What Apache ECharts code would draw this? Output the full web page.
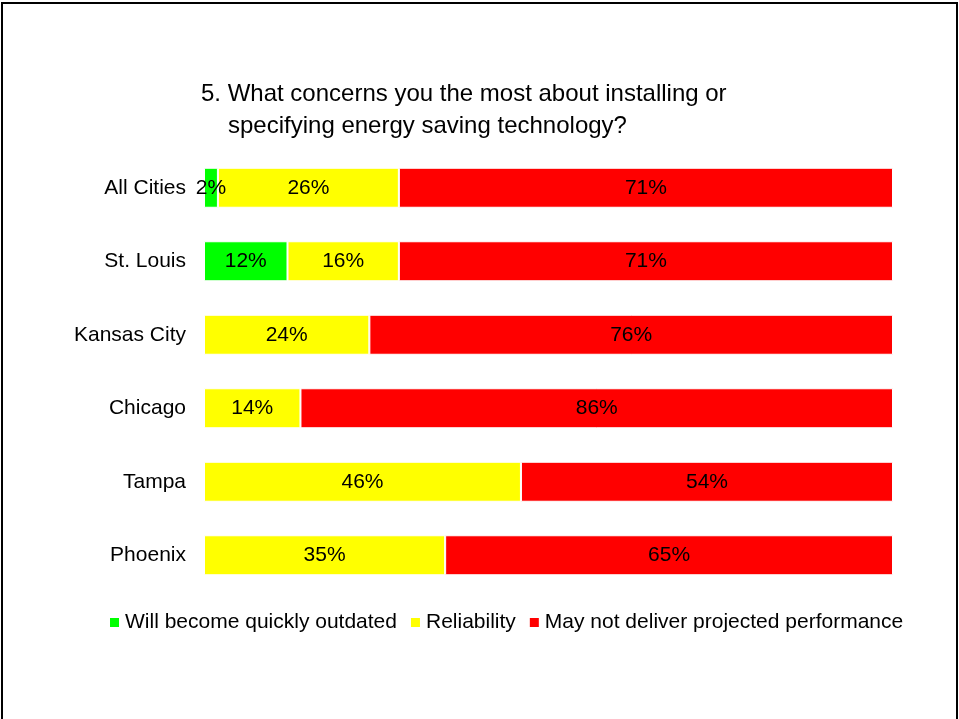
<!DOCTYPE html>
<html>
<head>
<meta charset="utf-8">
<script src="https://cdn.jsdelivr.net/npm/echarts@6/dist/echarts.min.js"></script>
<style>
  html, body { margin: 0; padding: 0; background: #fff; }
  #frame {
    position: absolute; left: 1px; top: 2px; width: 953px; height: 717px;
    border-top: 2px solid #000; border-left: 2px solid #000; border-right: 2px solid #000;
  }
  #chart { position: absolute; left: 0; top: 0; width: 959px; height: 719px; }
</style>
</head>
<body>
<div id="frame"></div>
<div id="chart"></div>
<script>
// 城市（从上到下）
const cities = ['All Cities', 'St. Louis', 'Kansas City', 'Chicago', 'Tampa', 'Phoenix'];
// 各项百分比（图上标注的数字）
const outdated = [2, 12, 0, 0, 0, 0];
const reliability = [26, 16, 24, 14, 46, 35];
const performance = [71, 71, 76, 86, 54, 65];

const seriesNames = ['Will become quickly outdated', 'Reliability', 'May not deliver projected performance'];
const colors = ['#00FF00', '#FFFF00', '#FF0000'];
const font = 'Liberation Sans, Arial, sans-serif';

// 100% 堆叠：按每行合计归一化
const totals = cities.map((c, i) => outdated[i] + reliability[i] + performance[i]);
const raw = [outdated, reliability, performance];

const chart = echarts.init(document.getElementById('chart'));
chart.setOption({
  animation: false,
  backgroundColor: 'transparent',
  title: [
    { text: '5. What concerns you the most about installing or', left: 196, top: 77,
      textStyle: { fontFamily: font, fontSize: 24, fontWeight: 'normal', color: '#000' } },
    { text: 'specifying energy saving technology?', left: 223, top: 109,
      textStyle: { fontFamily: font, fontSize: 24, fontWeight: 'normal', color: '#000' } }
  ],
  legend: {
    left: 103, top: 607,
    itemWidth: 11, itemHeight: 11, itemGap: 12,
    icon: 'rect',
    textStyle: { fontFamily: font, fontSize: 21, color: '#000' },
    data: seriesNames
  },
  grid: { left: 204, right: 66, top: 151, bottom: 127 },
  xAxis: {
    type: 'value', min: 0, max: 100,
    show: false
  },
  yAxis: {
    type: 'category',
    inverse: true,
    data: cities,
    axisLine: { show: false },
    axisTick: { show: false },
    axisLabel: { fontFamily: font, fontSize: 21, color: '#000', margin: 18 }
  },
  series: raw.map((vals, s) => ({
    name: seriesNames[s],
    type: 'bar',
    stack: 'total',
    barWidth: 40,
    itemStyle: { color: colors[s], borderColor: '#fff', borderWidth: 1 },
    label: {
      show: true,
      position: 'inside',
      fontFamily: font, fontSize: 21, color: '#000',
      formatter: p => vals[p.dataIndex] ? vals[p.dataIndex] + '%' : ''
    },
    data: vals.map((v, i) => v / totals[i] * 100)
  }))
});
</script>
</body>
</html>
